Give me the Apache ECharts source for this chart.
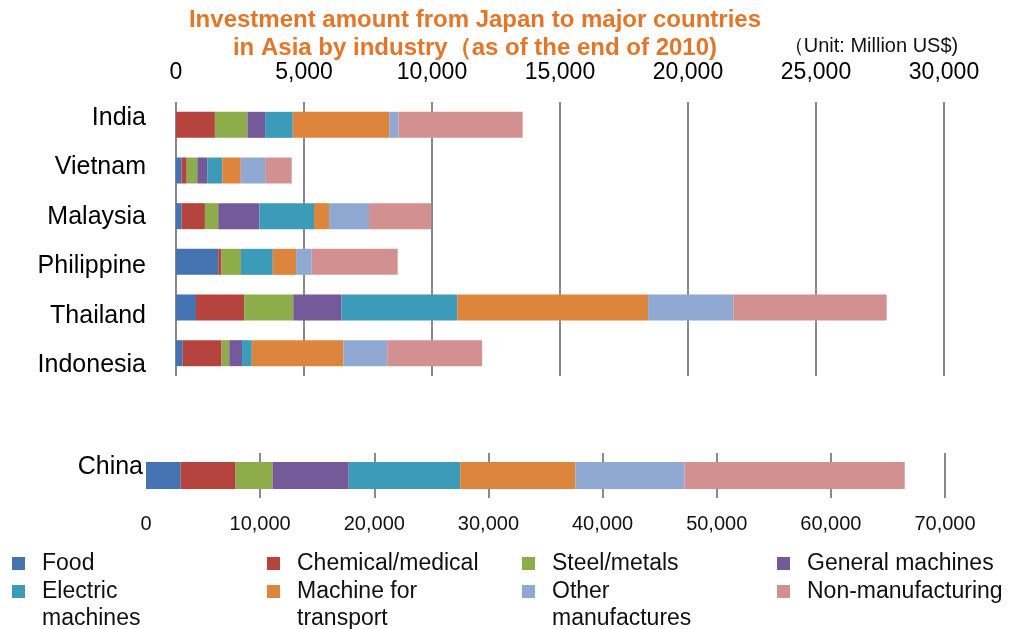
<!DOCTYPE html>
<html>
<head>
<meta charset="utf-8">
<script src="https://cdn.jsdelivr.net/npm/echarts@6/dist/echarts.min.js"></script>
<style>html,body{margin:0;padding:0;background:#fff;}#c{width:1010px;height:629px;}</style>
</head>
<body>
<div id="c"></div>
<script>
// ---- data (Million US$) ----
const asiaCountries = ['India', 'Vietnam', 'Malaysia', 'Philippine', 'Thailand', 'Indonesia'];
const chinaCategory = ['China'];
const industries = ['Food', 'Chemical/medical', 'Steel/metals', 'General machines',
                    'Electric machines', 'Machine for transport', 'Other manufactures', 'Non-manufacturing'];
const food       = [0,    220,  220,  1650, 780,  260];
const chemical   = [1520, 200,  910,  130,  1880, 1520];
const steel      = [1270, 410,  520,  760,  1920, 300];
const genMach    = [690,  390,  1610, 0,    1890, 500];
const electric   = [1080, 590,  2130, 1240, 4520, 380];
const transport  = [3770, 720,  590,  910,  7450, 3580];
const otherMfg   = [360,  950,  1560, 610,  3330, 1710];
const nonMfg     = [4850, 1040, 2420, 3360, 5990, 3710];
const chinaValues = [3040, 4810, 3230, 6680, 9770, 10090, 9560, 19290];
const topTicks = {min: 0, max: 30000, interval: 5000};
const bottomTicks = {min: 0, max: 70000, interval: 10000};

const colors = ['#4572B0', '#B5443F', '#8DAD4A', '#745A98', '#3C9BB8', '#DE853D', '#8FA9D3', '#D29090'];
const asiaSeriesData = [food, chemical, steel, genMach, electric, transport, otherMfg, nonMfg];
const legendLabels = {
  'Electric machines': ' \nElectric\nmachines',
  'Machine for transport': ' \nMachine for\ntransport',
  'Other manufactures': ' \nOther\nmanufactures'
};
const colX = [12, 267, 522, 777];

const gridColor = 'rgb(138,138,138)';
const series = [];
industries.forEach((name, i) => {
  series.push({
    name, type: 'bar', stack: 'asia', xAxisIndex: 0, yAxisIndex: 0,
    barWidth: 26, itemStyle: {color: colors[i]}, data: asiaSeriesData[i]
  });
  series.push({
    name, type: 'bar', stack: 'china', xAxisIndex: 2, yAxisIndex: 2,
    barWidth: 27, itemStyle: {color: colors[i]}, data: [chinaValues[i]]
  });
});

const legends = industries.map((name, i) => {
  const row = i < 4 ? 0 : 1;
  const col = i % 4;
  const multi = !!legendLabels[name];
  let top;
  if (row === 0) top = 550;
  else top = multi ? 551 : 578;
  return {
    data: [name], left: colX[col], top: top, padding: 0,
    icon: 'rect', itemWidth: 13, itemHeight: 13,
    selectedMode: false,
    formatter: n => legendLabels[n] || n,
    textStyle: {
      fontFamily: 'Liberation Sans, Arial, sans-serif', fontSize: 23, lineHeight: 27, color: '#111',
      padding: [0, 0, 0, 12]
    }
  };
});

const option = {
  animation: false,
  backgroundColor: '#fff',
  title: [{
    text: 'Investment amount from Japan to major countries\nin Asia by industry（as of the end of 2010)',
    left: 470, top: 1, textAlign: 'center',
    textStyle: {fontFamily: 'Liberation Sans, Arial, sans-serif', fontWeight: 'bold',
      fontSize: 24, lineHeight: 28, color: '#E4762A'}
  }, {
    text: '（Unit: Million US$)',
    left: 866, top: 31, textAlign: 'center',
    textStyle: {fontFamily: 'Liberation Sans, Arial, sans-serif', fontWeight: 'normal',
      fontSize: 20, color: '#111'}
  }],
  legend: legends,
  grid: [
    {left: 176, width: 768, top: 102, height: 274},
    {left: 176, width: 768, top: 93, height: 297},
    {left: 146, width: 799, top: 453, height: 45}
  ],
  xAxis: [
    {gridIndex: 0, type: 'value', position: 'top', min: topTicks.min, max: topTicks.max, interval: topTicks.interval,
     axisLine: {show: false}, axisTick: {show: false},
     axisLabel: {fontFamily: 'Liberation Sans, Arial, sans-serif', fontSize: 23, color: '#000', margin: 18},
     splitLine: {show: true, lineStyle: {color: gridColor, width: 2}}},
    {gridIndex: 1, type: 'value', show: false, min: topTicks.min, max: topTicks.max},
    {gridIndex: 2, type: 'value', position: 'bottom', min: bottomTicks.min, max: bottomTicks.max, interval: bottomTicks.interval,
     axisLine: {show: false}, axisTick: {show: false},
     axisLabel: {fontFamily: 'Liberation Sans, Arial, sans-serif', fontSize: 20, color: '#111', margin: 16},
     splitLine: {show: true, showMinLine: false, lineStyle: {color: gridColor, width: 2}}}
  ],
  yAxis: [
    {gridIndex: 0, type: 'category', inverse: true, data: asiaCountries,
     axisLine: {show: false}, axisTick: {show: false}, axisLabel: {show: false}},
    {gridIndex: 1, type: 'category', inverse: true, data: asiaCountries,
     axisLine: {show: false}, axisTick: {show: false},
     axisLabel: {fontFamily: 'Liberation Sans, Arial, sans-serif', fontSize: 25, color: '#000', margin: 30}},
    {gridIndex: 2, type: 'category', data: chinaCategory,
     axisLine: {show: false}, axisTick: {show: false},
     axisLabel: {fontFamily: 'Liberation Sans, Arial, sans-serif', fontSize: 25, color: '#000', margin: 3,
       lineHeight: 16, verticalAlign: 'bottom'}}
  ],
  series: series
};
const chart = echarts.init(document.getElementById('c'), null, {renderer: 'canvas'});
chart.setOption(option);
</script>
</body>
</html>
